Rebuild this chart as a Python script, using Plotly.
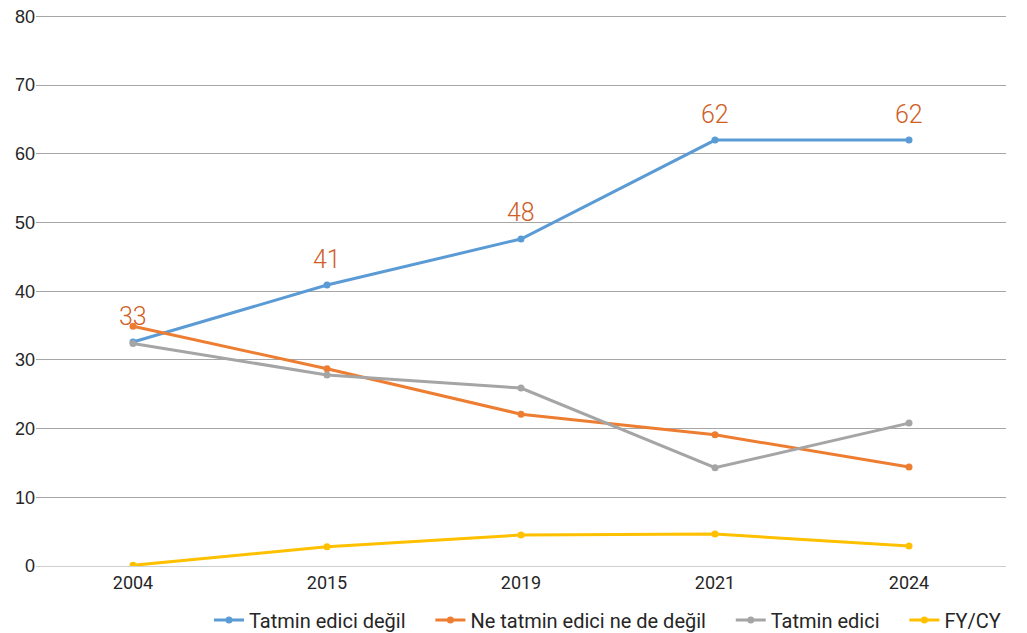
import plotly.graph_objects as go

years = ["2004", "2015", "2019", "2021", "2024"]
tatmin_degil = [32.6, 40.9, 47.6, 62.0, 62.0]
ne_ne = [34.9, 28.7, 22.1, 19.1, 14.4]
tatmin = [32.4, 27.8, 25.9, 14.3, 20.8]
fycy = [0.1, 2.8, 4.5, 4.65, 2.9]
labels_degil = ["33", "41", "48", "62", "62"]

names = ["Tatmin edici değil", "Ne tatmin edici ne de değil", "Tatmin edici", "FY/CY"]
colors = ["#5B9BD5", "#ED7D31", "#A5A5A5", "#FFC000"]
series = [tatmin_degil, ne_ne, tatmin, fycy]

cond = "Roboto, DejaVu Sans, sans-serif"
pad = "\u00a0" * 4

fig = go.Figure()
for i, (name, col, vals) in enumerate(zip(names, colors, series)):
    fig.add_trace(go.Scatter(
        x=years, y=vals, name=name + (pad if i < len(names) - 1 else ""),
        mode="lines+markers",
        line=dict(color=col, width=3),
        marker=dict(color=col, size=7),
    ))

# category axis: annotation x is the category index
for idx, (v, lab) in enumerate(zip(tatmin_degil, labels_degil)):
    fig.add_annotation(x=idx, y=v, xref="x", yref="y", text=lab, showarrow=False,
                       yshift=26, font=dict(family=cond, size=25, weight=300, color="#CF5E26"))

fig.update_layout(
    width=1027, height=633,
    margin=dict(l=28, r=29, t=7, b=75, autoexpand=False),
    plot_bgcolor="white", paper_bgcolor="white",
    font=dict(family=cond, size=17, color="#262626"),
    xaxis=dict(type="category", range=[-0.5, 4.5], showgrid=False,
               showline=True, linecolor="#CFCFCF", linewidth=1, automargin=False,
               ticks="", tickfont=dict(family=cond, size=18, color="#262626")),
    yaxis=dict(range=[0, 80.2], tickvals=[0, 10, 20, 30, 40, 50, 60, 70, 80],
               showgrid=True, gridcolor="#A6A6A6", automargin=False,
               ticklabeloverflow="allow",
               gridwidth=1, zeroline=False, showline=False, ticks="",
               tickfont=dict(family="Liberation Sans, Arial, sans-serif", size=18, color="#262626")),
    legend=dict(orientation="h", x=1.0, xanchor="right", y=-0.098, yanchor="middle",
                font=dict(family=cond, size=20, color="#262626"),
                itemwidth=30, tracegroupgap=0),
)

fig.write_html("out.html")
